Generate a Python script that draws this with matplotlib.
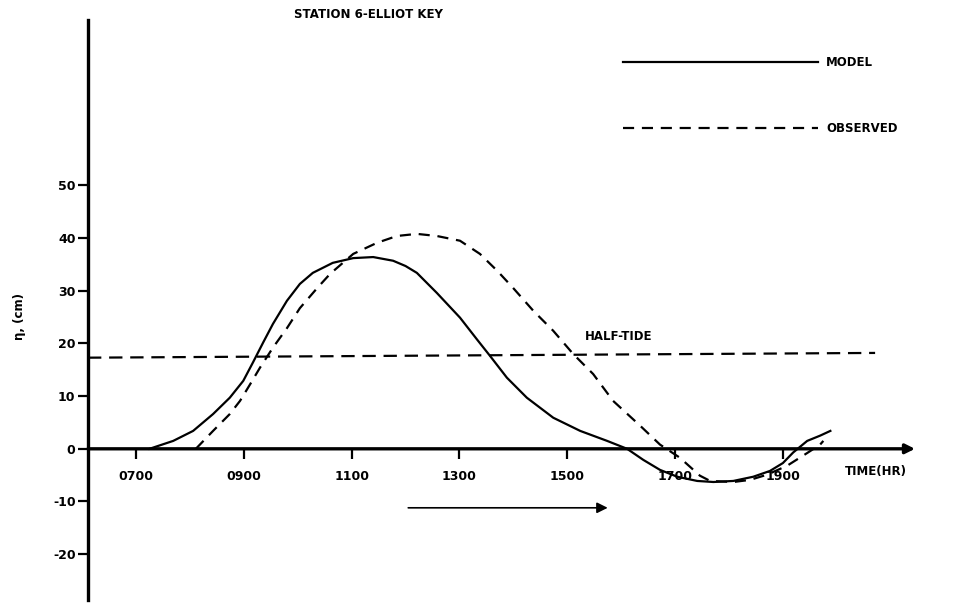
import matplotlib
matplotlib.use("Agg")
import matplotlib.pyplot as plt

# time in hours, elevation in cm
model_t = [7.25, 7.69, 8.06, 8.43, 8.74, 8.99, 9.17, 9.36, 9.54, 9.80,
           10.04, 10.28, 10.65, 11.03, 11.40, 11.77, 12.00, 12.21, 12.58,
           13.01, 13.33, 13.57, 13.88, 14.25, 14.74, 15.24, 15.74, 16.11,
           16.41, 16.72, 17.04, 17.41, 17.71, 18.08, 18.45, 18.76, 19.00,
           19.19, 19.45, 19.69, 19.88]
model_v = [0.0, 1.5, 3.4, 6.6, 9.7, 12.9, 16.4, 20.2, 23.7, 28.1,
           31.3, 33.4, 35.3, 36.2, 36.4, 35.7, 34.7, 33.4, 29.6,
           24.9, 20.7, 17.6, 13.5, 9.7, 5.9, 3.4, 1.5, 0.0,
           -2.1, -4.0, -5.3, -6.1, -6.3, -6.1, -5.3, -4.2, -2.7,
           -0.7, 1.5, 2.5, 3.4]

obs_t = [8.11, 8.43, 8.74, 8.93, 9.12, 9.30, 9.54, 9.80, 10.04, 10.36,
         10.60, 11.03, 11.47, 11.84, 12.21, 12.58, 13.01, 13.38, 13.70,
         13.99, 14.37, 14.74, 15.11, 15.48, 15.85, 16.35, 16.72, 17.09,
         17.46, 17.65, 18.08, 18.39, 18.71, 19.08, 19.45, 19.69, 19.75]
obs_v = [0.0, 3.4, 6.6, 9.1, 12.3, 15.4, 19.2, 22.9, 26.7, 30.5,
         33.2, 37.0, 39.1, 40.4, 40.8, 40.4, 39.5, 37.0, 33.8,
         30.6, 26.2, 22.4, 18.0, 14.2, 9.1, 4.4, 0.8, -1.7,
         -5.1, -6.1, -6.3, -5.9, -4.9, -3.2, -0.8, 0.8, 1.5]

half_tide_t = [6.11, 20.71]
half_tide_v = [17.3, 18.2]

xticks = [7, 9, 11, 13, 15, 17, 19]
xtick_labels = ["0700", "0900", "1100", "1300", "1500", "1700", "1900"]
yticks = [-20, -10, 0, 10, 20, 30, 40, 50]

W, H = 955, 606
font = {"family": "DejaVu Sans", "weight": "bold", "size": 8.5}
tick_font = {"family": "DejaVu Sans", "weight": "bold", "size": 9}

fig = plt.figure(figsize=(W / 100, H / 100), dpi=100)
ax = fig.add_axes([88 / W, 6 / H, 827 / W, 580 / H])
ax.set_xlim(6.11, 21.45)
ax.set_ylim(-28.7, 81.4)

# axes look: thick y axis on the left, x axis through zero drawn as one arrow
for side in ("top", "right"):
    ax.spines[side].set_visible(False)
ax.spines["left"].set_linewidth(2.4)
ax.spines["bottom"].set_position(("data", 0))
ax.spines["bottom"].set_visible(False)
ax.annotate("", xy=(21.45, 0), xytext=(6.11, 0),
            arrowprops=dict(arrowstyle="-|>", color="k", lw=2.4,
                            mutation_scale=14, shrinkA=0, shrinkB=0))

ax.set_xticks(xticks)
ax.set_xticklabels(xtick_labels, fontdict=tick_font)
ax.set_yticks(yticks)
ax.set_yticklabels([str(v) for v in yticks], fontdict=tick_font)
ax.tick_params(axis="x", direction="out", length=7, width=1.6, pad=8)
ax.tick_params(axis="y", direction="out", length=7, width=1.6, pad=2)

# curves
ax.plot(model_t, model_v, color="k", lw=1.6, solid_joinstyle="round",
        label="MODEL")
ax.plot(obs_t, obs_v, color="k", lw=1.6, linestyle=(0, (5, 3.5)),
        dash_joinstyle="round", label="OBSERVED")
ax.plot(half_tide_t, half_tide_v, color="k", lw=1.6,
        linestyle=(0, (6, 3.5)))

ax.text(15.33, 21.4, "HALF-TIDE", fontdict=font, va="center", ha="left")

# time arrow under the axis
ax.annotate("", xy=(15.75, -11.2), xytext=(12.05, -11.2),
            arrowprops=dict(arrowstyle="-|>", color="k", lw=1.2,
                            mutation_scale=16, shrinkA=0, shrinkB=0))

leg = ax.legend(loc="upper left", bbox_to_anchor=(623 / W, 1 - 56 / H),
                bbox_transform=fig.transFigure, frameon=False,
                handlelength=16.5, handletextpad=0.7, labelspacing=4.5,
                borderpad=0, borderaxespad=0, prop=font)

fig.text(368 / W, 1 - 14 / H, "STATION 6-ELLIOT KEY", fontdict=font,
         ha="center", va="center")
fig.text(845 / W, 1 - 472 / H, "TIME(HR)", fontdict=font,
         ha="left", va="center")
fig.text(20 / W, 1 - 316 / H, "η, (cm)", fontdict=font, rotation=90,
         ha="center", va="center")

fig.savefig("out.png", dpi=100)
